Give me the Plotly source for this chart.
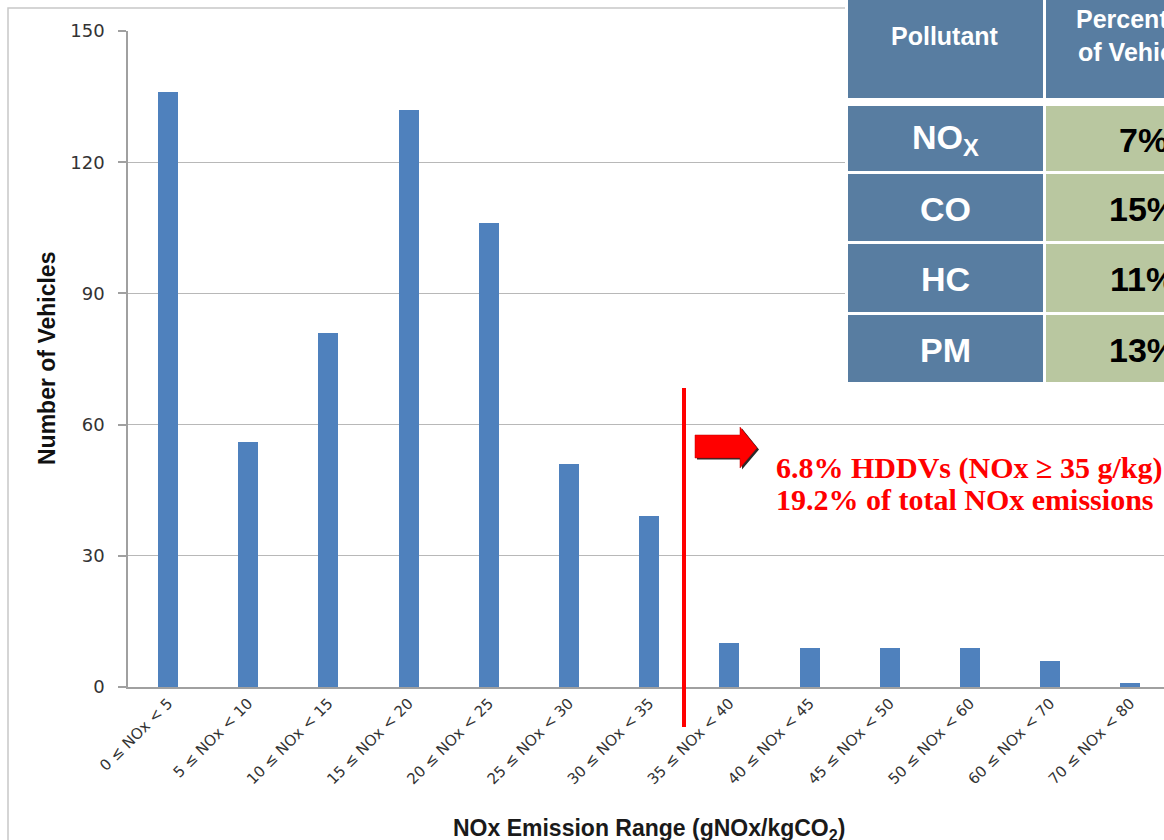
import plotly.graph_objects as go

# ---------------- data ----------------
categories = ["0 ≤ NOx < 5", "5 ≤ NOx < 10", "10 ≤ NOx < 15", "15 ≤ NOx < 20",
              "20 ≤ NOx < 25", "25 ≤ NOx < 30", "30 ≤ NOx < 35", "35 ≤ NOx < 40",
              "40 ≤ NOx < 45", "45 ≤ NOx < 50", "50 ≤ NOx < 60", "60 ≤ NOx < 70",
              "70 ≤ NOx < 80"]
vehicle_counts = [136, 56, 81, 132, 106, 51, 39, 10, 9, 9, 9, 6, 1]
y_ticks = [0, 30, 60, 90, 120, 150]

table_header = ["Pollutant", "Percentage<br>of Vehicles"]
pollutants = ["NO<sub>X</sub>", "CO", "HC", "PM"]
pollutant_percents = ["7%", "15%", "11%", "13%"]

callout_lines = ["6.8% HDDVs (NOx ≥ 35 g/kg)", "19.2% of total NOx emissions"]

# ---------------- geometry helpers (pixel -> paper) ----------------
W, H = 1164, 840
L, R, T, B = 128, 0, 31, 153


def px(x):
    return (x - L) / (W - L - R)


def py(y):
    return (H - B - y) / (H - T - B)


BLUE = "#587da1"
GREEN = "#b9c7a0"

fig = go.Figure()
fig.add_trace(go.Bar(
    x=categories, y=vehicle_counts, width=0.25,
    marker=dict(color="#4f81bd", line=dict(width=0)),
    showlegend=False, hoverinfo="x+y",
))

shapes = []
annotations = []

# outer chart border
shapes.append(dict(type="rect", xref="paper", yref="paper", layer="below",
                   x0=px(8), x1=px(1300), y0=py(8), y1=py(1000),
                   line=dict(color="#c8c8c8", width=1.5), fillcolor="rgba(0,0,0,0)"))

# red vertical divider
shapes.append(dict(type="line", xref="paper", yref="paper", layer="above",
                   x0=px(684), x1=px(684), y0=py(388), y1=py(727),
                   line=dict(color="#ff0000", width=4)))


def arrow_path(dx, dy):
    pts = [(695, 435), (740, 435), (740, 427), (757, 448), (740, 468), (740, 458), (695, 458)]
    s = ""
    for i, (x, y) in enumerate(pts):
        s += ("M" if i == 0 else "L") + f"{px(x + dx):.5f},{py(y + dy):.5f} "
    return s + "Z"


shapes.append(dict(type="path", xref="paper", yref="paper", layer="above",
                   path=arrow_path(2, 1.5), fillcolor="#2a2a2a", line=dict(width=0)))
shapes.append(dict(type="path", xref="paper", yref="paper", layer="above",
                   path=arrow_path(0, 0), fillcolor="#ff0000", line=dict(color="#c00000", width=0.5)))

# table cells
col_x = [(848, 1043), (1046, 1260)]
header_y = (-10, 98)
row_y = [(106, 171), (174, 241), (244, 312), (315, 382)]
shapes.append(dict(type="rect", xref="paper", yref="paper", layer="above",
                   x0=px(845), x1=px(1300), y0=py(-10), y1=py(385),
                   fillcolor="white", line=dict(width=0)))
for (x0, x1) in col_x:
    shapes.append(dict(type="rect", xref="paper", yref="paper", layer="above",
                       x0=px(x0), x1=px(x1), y0=py(header_y[1]), y1=py(header_y[0]),
                       fillcolor=BLUE, line=dict(width=0)))
for (y0, y1) in row_y:
    shapes.append(dict(type="rect", xref="paper", yref="paper", layer="above",
                       x0=px(col_x[0][0]), x1=px(col_x[0][1]), y0=py(y1), y1=py(y0),
                       fillcolor=BLUE, line=dict(width=0)))
    shapes.append(dict(type="rect", xref="paper", yref="paper", layer="above",
                       x0=px(col_x[1][0]), x1=px(col_x[1][1]), y0=py(y1), y1=py(y0),
                       fillcolor=GREEN, line=dict(width=0)))

col_centers = [945, 1143]
for cx, txt in zip(col_centers, table_header):
    annotations.append(dict(xref="paper", yref="paper", x=px(cx), y=py(36),
                            xanchor="center", yanchor="middle", showarrow=False, text=txt,
                            font=dict(family="Liberation Sans", size=25, color="white", weight="bold")))
for (y0, y1), name, pct in zip(row_y, pollutants, pollutant_percents):
    cy = (y0 + y1) / 2
    annotations.append(dict(xref="paper", yref="paper", x=px(col_centers[0]), y=py(cy + 1),
                            xanchor="center", yanchor="middle", showarrow=False, text=name,
                            font=dict(family="Liberation Sans", size=34, color="white", weight="bold")))
    annotations.append(dict(xref="paper", yref="paper", x=px(col_centers[1]), y=py(cy + 1),
                            xanchor="center", yanchor="middle", showarrow=False, text=pct,
                            font=dict(family="Liberation Sans", size=34, color="black", weight="bold")))

# red callout text
for i, line in enumerate(callout_lines):
    annotations.append(dict(xref="paper", yref="paper", x=px(774), y=py(468 + 31 * i),
                            xanchor="left", yanchor="middle", showarrow=False, text=line,
                            font=dict(family="Liberation Serif", size=30, color="#ff0000", weight="bold")))

# axis titles
annotations.append(dict(xref="paper", yref="paper", x=px(47), y=py(359), textangle=-90,
                        xanchor="center", yanchor="middle", showarrow=False,
                        text="Number of Vehicles",
                        font=dict(family="Liberation Sans", size=23, color="#111111", weight="bold")))
annotations.append(dict(xref="paper", yref="paper", x=px(649), y=py(829),
                        xanchor="center", yanchor="middle", showarrow=False,
                        text="NOx Emission Range (gNOx/kgCO<sub>2</sub>)",
                        font=dict(family="Liberation Sans", size=23, color="#1a1a1a", weight="bold")))

fig.update_layout(
    width=W, height=H,
    margin=dict(l=L, r=R, t=T, b=B, pad=0),
    paper_bgcolor="white", plot_bgcolor="white",
    bargap=0,
    shapes=shapes, annotations=annotations,
    xaxis=dict(type="category", range=[-0.5, 12.42], showgrid=False,
               showline=True, linecolor="#a0a0a0", linewidth=1.5,
               ticks="", tickangle=-45, automargin=False,
               tickfont=dict(family="DejaVu Sans", size=15, color="#333333")),
    yaxis=dict(range=[0, 150], tickvals=y_ticks, showgrid=True, gridcolor="#b8b8b8", gridwidth=1,
               showline=True, linecolor="#a0a0a0", linewidth=1.5,
               ticks="outside", ticklen=8, tickcolor="#a0a0a0", tickwidth=1.5,
               ticklabelstandoff=10, automargin=False, zeroline=False,
               tickfont=dict(family="DejaVu Sans", size=18, color="#333333")),
)

fig.write_html("out.html", config={"displayModeBar": False},
               post_script="document.body.style.margin='0';document.body.style.padding='0';"
                           "document.body.style.overflow='hidden';")
